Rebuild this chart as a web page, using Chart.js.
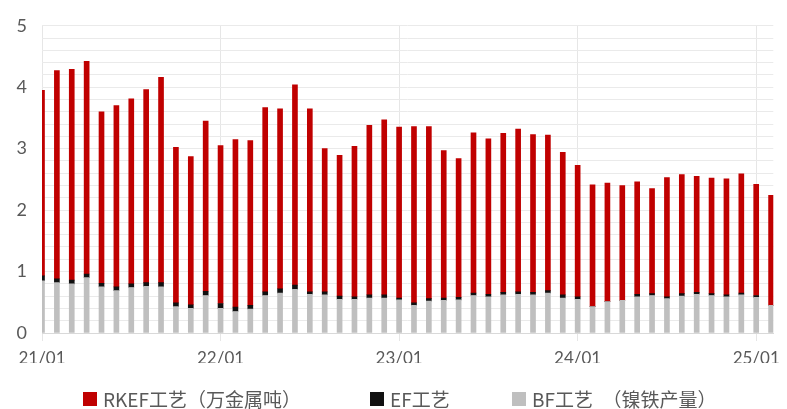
<!DOCTYPE html>
<html>
<head>
<meta charset="utf-8">
<script src="https://cdn.jsdelivr.net/npm/chart.js@4"></script>
<style>
  body { margin: 0; background: #fff; }
  #wrap { position: relative; width: 787px; height: 409px; }
  #chart { position: absolute; left: 0; top: 0; }
  #legend { position: absolute; left: 0; top: 388px; width: 787px; height: 21px;
            font-family: "Noto Sans CJK SC", sans-serif; font-size: 19px; color: #595959; }
  .item { position: absolute; top: 0; height: 21px; line-height: 21px; display: flex; align-items: center; white-space: pre; }
  .box { width: 14px; height: 14px; margin-right: 6px; }
</style>
</head>
<body>
<div id="wrap">
  <canvas id="chart" width="787" height="409"></canvas>
  <div id="legend"></div>
</div>
<script>
// months, 21/01 .. 25/02
const months = [
  '21/01','21/02','21/03','21/04','21/05','21/06','21/07','21/08','21/09','21/10','21/11','21/12',
  '22/01','22/02','22/03','22/04','22/05','22/06','22/07','22/08','22/09','22/10','22/11','22/12',
  '23/01','23/02','23/03','23/04','23/05','23/06','23/07','23/08','23/09','23/10','23/11','23/12',
  '24/01','24/02','24/03','24/04','24/05','24/06','24/07','24/08','24/09','24/10','24/11','24/12',
  '25/01','25/02'
];

// 万金属吨
const rkef = [
  3.02, 3.39, 3.43, 3.46, 2.79, 2.95, 3.01, 3.14, 3.34, 2.53, 2.41, 2.77,
  2.57, 2.73, 2.68, 3.00, 2.93, 3.26, 2.98, 2.33, 2.29, 2.45, 2.76, 2.85,
  2.78, 2.87, 2.80, 2.40, 2.26, 2.61, 2.53, 2.59, 2.65, 2.57, 2.53, 2.32,
  2.14, 1.98, 1.93, 1.87, 1.83, 1.71, 1.94, 1.94, 1.89, 1.88, 1.89, 1.94,
  1.81, 1.79
];
const ef = [
  0.08, 0.06, 0.06, 0.06, 0.06, 0.06, 0.06, 0.06, 0.07, 0.06, 0.06, 0.07,
  0.08, 0.07, 0.06, 0.06, 0.07, 0.07, 0.04, 0.05, 0.05, 0.04, 0.05, 0.05,
  0.03, 0.04, 0.04, 0.04, 0.04, 0.04, 0.04, 0.04, 0.04, 0.04, 0.04, 0.05,
  0.04, 0.00, 0.00, 0.00, 0.04, 0.03, 0.03, 0.04, 0.03, 0.03, 0.03, 0.03,
  0.03, 0.00
];
const bf = [
  0.85, 0.82, 0.80, 0.90, 0.75, 0.69, 0.74, 0.76, 0.75, 0.43, 0.40, 0.61,
  0.40, 0.35, 0.39, 0.61, 0.65, 0.71, 0.63, 0.62, 0.55, 0.55, 0.57, 0.57,
  0.54, 0.45, 0.52, 0.53, 0.54, 0.61, 0.59, 0.62, 0.63, 0.62, 0.65, 0.57,
  0.55, 0.43, 0.51, 0.53, 0.59, 0.61, 0.56, 0.60, 0.63, 0.61, 0.59, 0.62,
  0.58, 0.45
];

const seriesNames = ['RKEF工艺（万金属吨）', 'EF工艺', 'BF工艺　（镍铁产量）'];

const textColor = '#595959';
const legendLeft = [83, 370, 512];

function toPoints(arr) {
  return arr.map(function(v, i) { return {x: i, y: v}; });
}

function barSet(label, values, color) {
  return {
    label: label,
    data: toPoints(values),
    backgroundColor: color,
    borderWidth: 0,
    barThickness: 5,
    clip: 0
  };
}

const chart = new Chart(document.getElementById('chart'), {
  type: 'bar',
  data: {
    // bottom to top: BF, EF, RKEF
    datasets: [
      barSet(seriesNames[2], bf, '#BFBFBF'),
      barSet(seriesNames[1], ef, '#111111'),
      barSet(seriesNames[0], rkef, '#C00000')
    ]
  },
  options: {
    responsive: false,
    animation: false,
    layout: {padding: {top: 17, right: 10, bottom: 46, left: 0}},
    plugins: {
      legend: {display: false},
      tooltip: {enabled: false}
    },
    scales: {
      x: {
        type: 'linear',
        stacked: true,
        min: 0,
        max: 49.15,
        offset: false,
        grid: {color: '#E6E6E6', offset: false, drawTicks: true, tickLength: 8},
        border: {color: '#D9D9D9'},
        ticks: {
          stepSize: 12,
          includeBounds: false,
          autoSkip: false,
          maxRotation: 0,
          padding: 7,
          color: textColor,
          font: {family: 'Lato', size: 17},
          callback: function(v) { return months[v] || ''; }
        },
        afterFit: function(scale) { scale.height = 30; }
      },
      y: {
        stacked: true,
        min: 0,
        max: 5,
        grid: {color: '#EAEAEA', drawTicks: false},
        border: {display: false},
        ticks: {
          stepSize: 0.2,
          autoSkip: false,
          padding: 15,
          color: textColor,
          font: {family: 'Lato', size: 18},
          callback: function(v) {
            return Math.abs(v - Math.round(v)) < 1e-6 ? String(Math.round(v)) : '';
          }
        },
        afterFit: function(scale) { scale.width = 42; }
      }
    }
  }
});

// html legend, RKEF first
const legend = document.getElementById('legend');
chart.data.datasets.slice().reverse().forEach(function(ds, i) {
  const item = document.createElement('div');
  item.className = 'item';
  item.style.left = legendLeft[i] + 'px';
  const box = document.createElement('span');
  box.className = 'box';
  box.style.background = ds.backgroundColor;
  item.appendChild(box);
  item.appendChild(document.createTextNode(ds.label));
  legend.appendChild(item);
});
</script>
</body>
</html>
